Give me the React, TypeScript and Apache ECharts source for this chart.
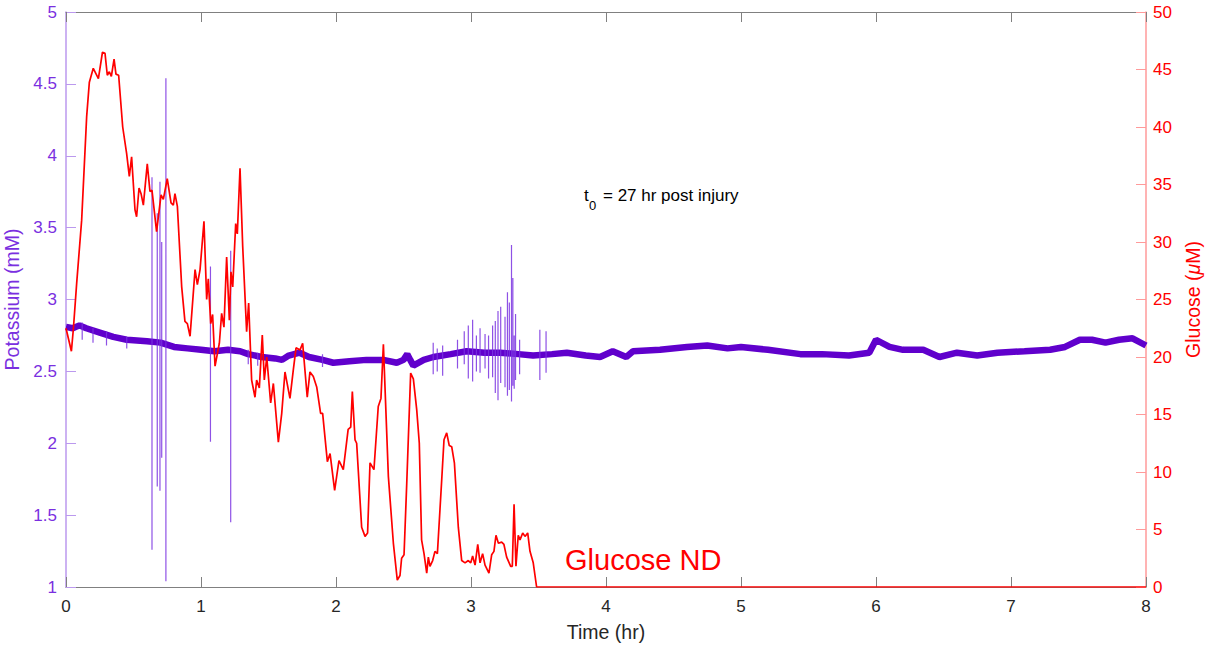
import React, { useEffect, useRef } from "react";
import * as echarts from "echarts";

// ---- Data ----
const xTicks = [0, 1, 2, 3, 4, 5, 6, 7, 8];

// Potassium baseline (hr, mM)
const potT = [0, 0.05, 0.1, 0.15, 0.25, 0.35, 0.45, 0.6, 0.7, 0.8, 0.9, 1.0, 1.1, 1.2, 1.29, 1.35, 1.45, 1.55, 1.6, 1.65, 1.73, 1.8, 1.9, 1.98, 2.1, 2.225, 2.35, 2.45, 2.5, 2.528, 2.55, 2.573, 2.65, 2.721, 2.85, 2.968, 3.1, 3.215, 3.35, 3.46, 3.6, 3.71, 3.85, 3.956, 4.05, 4.15, 4.2, 4.4, 4.6, 4.75, 4.9, 5.0, 5.2, 5.44, 5.6, 5.8, 5.95, 6.0, 6.1, 6.2, 6.35, 6.47, 6.6, 6.75, 6.9, 7.1, 7.29, 7.4, 7.51, 7.6, 7.7, 7.8, 7.9, 8.0];
const potV = [2.81, 2.8, 2.82, 2.8, 2.77, 2.74, 2.72, 2.71, 2.7, 2.67, 2.66, 2.65, 2.64, 2.65, 2.64, 2.62, 2.6, 2.59, 2.58, 2.61, 2.63, 2.6, 2.58, 2.56, 2.57, 2.58, 2.58, 2.56, 2.58, 2.62, 2.58, 2.54, 2.58, 2.6, 2.62, 2.64, 2.63, 2.63, 2.62, 2.61, 2.62, 2.63, 2.61, 2.6, 2.64, 2.6, 2.64, 2.65, 2.67, 2.68, 2.66, 2.67, 2.65, 2.62, 2.62, 2.61, 2.63, 2.72, 2.67, 2.65, 2.65, 2.6, 2.63, 2.61, 2.63, 2.64, 2.65, 2.67, 2.72, 2.72, 2.7, 2.72, 2.73, 2.68];

// Potassium artefact spikes (hr, low mM, high mM)
const spikeT = [0.12, 0.2, 0.3, 0.45, 0.637, 0.676, 0.696, 0.709, 0.74, 1.07, 1.22, 1.35, 1.42, 1.9, 2.72, 2.75, 2.79, 2.9, 2.95, 2.98, 3.012, 3.04, 3.067, 3.104, 3.13, 3.16, 3.18, 3.2, 3.22, 3.252, 3.27, 3.284, 3.3, 3.31, 3.32, 3.33, 3.36, 3.51, 3.556];
const spikeLow = [2.72, 2.7, 2.68, 2.66, 1.26, 1.7, 1.67, 1.9, 1.04, 2.01, 1.45, 2.55, 2.54, 2.53, 2.48, 2.5, 2.47, 2.52, 2.55, 2.45, 2.43, 2.5, 2.49, 2.52, 2.45, 2.46, 2.35, 2.3, 2.42, 2.39, 2.33, 2.37, 2.29, 2.4, 2.38, 2.44, 2.48, 2.44, 2.49];
const spikeHigh = [2.84, 2.8, 2.78, 2.74, 3.85, 3.6, 3.82, 3.4, 4.54, 3.23, 3.34, 2.65, 2.63, 2.62, 2.7, 2.66, 2.68, 2.72, 2.78, 2.82, 2.86, 2.75, 2.8, 2.76, 2.75, 2.82, 2.85, 2.92, 2.95, 2.88, 3.05, 2.98, 3.38, 3.15, 2.75, 2.9, 2.72, 2.79, 2.78];

// Glucose (hr, µM)
const glucT = [0, 0.02, 0.04, 0.055, 0.079, 0.116, 0.153, 0.173, 0.202, 0.24, 0.27, 0.289, 0.306, 0.321, 0.336, 0.356, 0.37, 0.39, 0.42, 0.449, 0.469, 0.486, 0.511, 0.523, 0.541, 0.556, 0.573, 0.602, 0.622, 0.637, 0.671, 0.704, 0.721, 0.75, 0.778, 0.795, 0.807, 0.825, 0.857, 0.881, 0.899, 0.919, 0.956, 0.973, 0.993, 1.022, 1.042, 1.054, 1.072, 1.086, 1.104, 1.136, 1.153, 1.17, 1.19, 1.21, 1.222, 1.235, 1.257, 1.269, 1.289, 1.309, 1.338, 1.353, 1.375, 1.4, 1.412, 1.432, 1.454, 1.469, 1.487, 1.516, 1.536, 1.573, 1.598, 1.622, 1.659, 1.684, 1.704, 1.733, 1.753, 1.787, 1.807, 1.832, 1.857, 1.886, 1.901, 1.936, 1.956, 1.99, 2.022, 2.054, 2.09, 2.109, 2.121, 2.141, 2.153, 2.19, 2.215, 2.234, 2.252, 2.281, 2.313, 2.333, 2.351, 2.388, 2.425, 2.454, 2.474, 2.486, 2.504, 2.524, 2.553, 2.573, 2.598, 2.617, 2.634, 2.652, 2.672, 2.684, 2.696, 2.716, 2.733, 2.751, 2.783, 2.8, 2.82, 2.839, 2.857, 2.877, 2.906, 2.931, 2.956, 2.98, 2.998, 3.012, 3.03, 3.05, 3.067, 3.086, 3.104, 3.133, 3.153, 3.17, 3.185, 3.203, 3.227, 3.244, 3.264, 3.294, 3.306, 3.319, 3.333, 3.35, 3.363, 3.383, 3.4, 3.42, 3.437, 3.461, 3.486, 8.0];
const glucV = [22.5, 21.5, 20.5, 22.5, 26.4, 31.9, 40.9, 43.9, 45.1, 44.2, 46.5, 46.4, 44.5, 44.8, 44.4, 45.9, 44.6, 44.5, 40.0, 37.7, 35.7, 37.4, 32.8, 32.2, 34.7, 34.2, 33.2, 36.8, 34.4, 34.5, 30.9, 34.1, 33.7, 35.5, 33.4, 33.2, 34.2, 33.1, 26.1, 23.1, 22.9, 21.8, 27.6, 26.3, 27.6, 31.8, 25.0, 26.8, 22.9, 23.7, 19.2, 21.2, 23.8, 22.6, 28.7, 23.2, 27.4, 26.1, 31.6, 30.7, 36.4, 29.6, 22.2, 24.7, 18.0, 16.5, 18.0, 17.3, 21.9, 18.0, 20.0, 16.0, 17.7, 12.6, 15.1, 18.7, 16.4, 18.9, 20.8, 20.6, 21.2, 16.5, 18.7, 18.3, 17.4, 15.1, 15.1, 10.9, 11.6, 8.4, 11.0, 10.2, 13.7, 13.9, 17.0, 12.8, 12.5, 5.2, 4.4, 4.7, 10.8, 10.2, 15.7, 16.4, 21.1, 9.6, 3.8, 0.6, 1.0, 2.5, 2.8, 9.0, 18.6, 18.1, 15.4, 12.5, 4.1, 2.9, 1.2, 2.6, 1.8, 2.3, 3.1, 2.9, 9.3, 12.8, 13.4, 12.3, 12.2, 10.8, 5.2, 2.3, 2.1, 2.3, 2.1, 2.7, 1.9, 3.7, 2.1, 2.9, 1.9, 1.2, 2.8, 3.1, 4.5, 3.8, 3.9, 3.7, 2.6, 1.8, 1.8, 7.2, 1.8, 4.5, 4.1, 4.7, 4.4, 4.7, 3.1, 2.1, 0, 0];

const PURPLE = "#6000cc";
const PURPLE_TXT = "#7a2fe0";
const RED = "#ff0000";
const FONT = "'Liberation Sans', Arial, Helvetica, sans-serif";

export default function App() {
  const ref = useRef<HTMLDivElement>(null);

  useEffect(() => {
    if (!ref.current) return;
    const chart = echarts.init(ref.current, undefined, { renderer: "svg" });

    const potData = potT.map((t, i) => [t, potV[i]]);
    const spikeData: any[] = [];
    spikeT.forEach((t, i) => {
      spikeData.push([t, spikeLow[i]]);
      spikeData.push([t, spikeHigh[i]]);
      spikeData.push([t, null]);
    });
    const glucData = glucT.map((t, i) => [t, glucV[i]]);

    chart.setOption({
      animation: false,
      backgroundColor: "#ffffff",
      textStyle: { fontFamily: FONT },
      grid: { left: 66, right: 65, top: 12, bottom: 59, containLabel: false, outerBoundsMode: "none" },
      xAxis: [
        {
          type: "value",
          min: xTicks[0],
          max: xTicks[xTicks.length - 1],
          interval: 1,
          position: "bottom",
          name: "Time (hr)",
          nameLocation: "middle",
          nameGap: 35,
          nameTextStyle: { color: "#262626", fontSize: 19.5, fontFamily: FONT },
          axisLine: { show: true, onZero: false, lineStyle: { color: "#808080", width: 1 } },
          axisTick: { show: true, inside: true, length: 10, lineStyle: { color: "#808080" } },
          axisLabel: { color: "#262626", fontSize: 17, margin: 11, fontFamily: FONT },
          splitLine: { show: false },
        },
        {
          type: "value",
          min: xTicks[0],
          max: xTicks[xTicks.length - 1],
          interval: 1,
          position: "top",
          axisLine: { show: true, onZero: false, lineStyle: { color: "#808080", width: 1 } },
          axisTick: { show: true, inside: true, length: 10, lineStyle: { color: "#808080" } },
          axisLabel: { show: false },
          splitLine: { show: false },
        },
      ],
      yAxis: [
        {
          type: "value",
          min: 1,
          max: 5,
          interval: 0.5,
          position: "left",
          name: "Potassium (mM)",
          nameLocation: "middle",
          nameGap: 38,
          nameTextStyle: { color: PURPLE_TXT, fontSize: 19.5, fontFamily: FONT },
          axisLine: { show: true, onZero: false, lineStyle: { color: "#bb99ee", width: 1.5 } },
          axisTick: { show: true, inside: true, length: 10, lineStyle: { color: "#bb99ee" } },
          axisLabel: { color: PURPLE_TXT, fontSize: 17, margin: 9, fontFamily: FONT },
          splitLine: { show: false },
        },
        {
          type: "value",
          min: 0,
          max: 50,
          interval: 5,
          position: "right",
          name: "Glucose ({i|μ}M)",
          nameLocation: "middle",
          nameGap: 37,
          nameRotate: 90,
          nameTextStyle: {
            color: RED,
            fontSize: 19.5,
            fontFamily: FONT,
            rich: { i: { fontStyle: "italic", color: RED, fontSize: 19.5, fontFamily: FONT } },
          },
          axisLine: { show: true, onZero: false, lineStyle: { color: "#ff9a9a", width: 1.5 } },
          axisTick: { show: true, inside: true, length: 10, lineStyle: { color: "#ff9a9a" } },
          axisLabel: { color: RED, fontSize: 17, margin: 7, fontFamily: FONT },
          splitLine: { show: false },
        },
      ],
      series: [
        {
          type: "line",
          name: "Potassium",
          xAxisIndex: 0,
          yAxisIndex: 0,
          data: potData,
          showSymbol: false,
          symbol: "none",
          lineStyle: { color: PURPLE, width: 6.5 },
          z: 2,
        },
        {
          type: "line",
          name: "Potassium spikes",
          xAxisIndex: 0,
          yAxisIndex: 0,
          data: spikeData,
          connectNulls: false,
          showSymbol: false,
          symbol: "none",
          lineStyle: { color: "#7a33e0", width: 1.2, opacity: 0.85 },
          z: 2,
        },
        {
          type: "line",
          name: "Glucose",
          xAxisIndex: 0,
          yAxisIndex: 1,
          data: glucData,
          showSymbol: false,
          symbol: "none",
          lineStyle: { color: RED, width: 1.7 },
          z: 3,
        },
      ],
      graphic: [
        {
          type: "text",
          left: 584,
          top: 187,
          style: { text: "t", fill: "#000", fontSize: 17, fontFamily: FONT },
        },
        {
          type: "text",
          left: 589,
          top: 199,
          style: { text: "0", fill: "#000", fontSize: 13, fontFamily: FONT },
        },
        {
          type: "text",
          left: 603,
          top: 187,
          style: { text: "= 27 hr post injury", fill: "#000", fontSize: 17, fontFamily: FONT },
        },
        {
          type: "text",
          left: 565,
          top: 545,
          style: { text: "Glucose ND", fill: RED, fontSize: 29, fontFamily: FONT },
        },
      ],
    });

    return () => {
      chart.dispose();
    };
  }, []);

  return (
    <div
      ref={ref}
      style={{ position: "fixed", left: 0, top: 0, width: 1211, height: 646, background: "#fff" }}
    />
  );
}
